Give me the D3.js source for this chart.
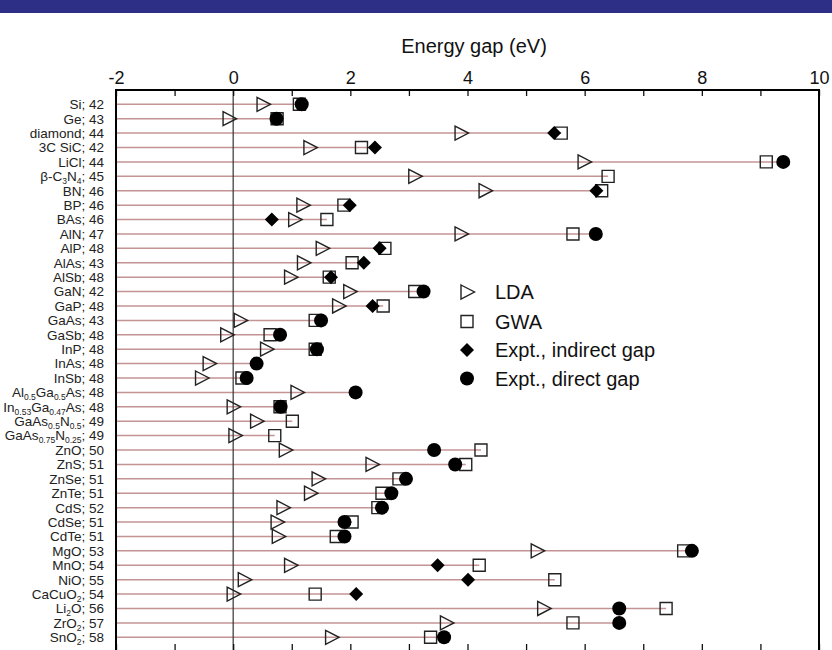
<!DOCTYPE html>
<html>
<head>
<meta charset="utf-8">
<script src="https://cdn.jsdelivr.net/npm/d3@7"></script>
<style>
    body { margin: 0; background: #fff; }
    svg { display: block; font-family: "Liberation Sans", Arial, sans-serif; }
</style>
</head>
<body>
<svg id="chart" width="832" height="650"></svg>
<script>
// Materials (top to bottom) with subscripts marked as _{...}
const materials = ["Si", "Ge", "diamond", "3C SiC", "LiCl", "β-C_{3}N_{4}", "BN", "BP", "BAs",
    "AlN", "AlP", "AlAs", "AlSb", "GaN", "GaP", "GaAs", "GaSb", "InP", "InAs", "InSb",
    "Al_{0.5}Ga_{0.5}As", "In_{0.53}Ga_{0.47}As", "GaAs_{0.5}N_{0.5}", "GaAs_{0.75}N_{0.25}",
    "ZnO", "ZnS", "ZnSe", "ZnTe", "CdS", "CdSe", "CdTe", "MgO", "MnO", "NiO",
    "CaCuO_{2}", "Li_{2}O", "ZrO_{2}", "SnO_{2}"];
const refs = [42, 43, 44, 42, 44, 45, 46, 46, 46, 47, 48, 43, 48, 42, 48, 43, 48, 48, 48, 48,
    48, 48, 49, 49, 50, 51, 51, 51, 52, 51, 51, 53, 54, 55, 54, 56, 57, 58];

// Energy gaps (eV)
const lda = [0.51, -0.07, 3.89, 1.31, 5.99, 3.10, 4.30, 1.19, 1.05, 3.89, 1.52, 1.20, 0.98, 1.99,
    1.80, 0.12, -0.11, 0.57, -0.41, -0.54, 1.09, 0.0, 0.40, 0.03, 0.89, 2.37, 1.45, 1.32, 0.85,
    0.75, 0.77, 5.19, 0.98, 0.19, 0.0, 5.30, 3.64, 1.68];
const gwa = [1.13, 0.75, 5.60, 2.19, 9.10, 6.40, 6.29, 1.89, 1.60, 5.80, 2.59, 2.03, 1.64, 3.10,
    2.56, 1.40, 0.63, 1.40, null, 0.15, null, 0.80, 1.01, 0.71, 4.23, 3.97, 2.83, 2.54, 2.47,
    2.03, 1.76, 7.69, 4.20, 5.49, 1.40, 7.39, 5.80, 3.37];
const exptIndirect = [null, null, 5.48, 2.42, null, null, 6.20, 1.99, 0.66, null, 2.50, 2.23, 1.67, null,
    2.38, null, null, null, null, null, null, null, null, null, null, null, null, null, null,
    null, null, null, 3.49, 4.01, 2.10, null, null, null];
const exptDirect = [1.17, 0.74, null, null, 9.39, null, null, null, null, 6.19, null, null, null, 3.25,
    null, 1.50, 0.80, 1.43, 0.40, 0.23, 2.09, 0.81, null, null, 3.43, 3.79, 2.95, 2.70, 2.54,
    1.90, 1.90, 7.83, null, null, null, 6.59, 6.59, 3.60];

const xLabelTicks = [-2, 0, 2, 4, 6, 8, 10];
const legendLabels = ["LDA", "GWA", "Expt., indirect gap", "Expt., direct gap"];

const svg = d3.select('#chart');
const plotLeft = 116, plotRight = 819, plotTop = 90, plotBottom = 653;

const x = d3.scaleLinear().domain([-2, 10]).range([plotLeft, plotRight]);
const y = d3.scalePoint().domain(d3.range(materials.length)).range([104.3, 637.3]);

// Marker shapes
const shapes = {
    tri: 'M-6,-7L7.5,0L-6,7Z',
    sq: 'M-6,-6H6V6H-6Z',
    dia: 'M0,-7L7,0L0,7L-7,0Z'
};

// Header bar
svg.append('rect').attr('x', 0).attr('y', 0).attr('width', 832).attr('height', 13)
    .attr('fill', '#2d2f86');

// Title
svg.append('text')
    .attr('x', 474).attr('y', 53)
    .attr('text-anchor', 'middle')
    .style('font-size', '20px').attr('fill', '#111')
    .text('Energy gap (eV)');

// Row lines
const rows = d3.range(materials.length);
svg.append('g').selectAll('line')
    .data(rows)
    .enter()
    .append('line')
    .attr('x1', plotLeft)
    .attr('x2', i => x(d3.max([lda[i], gwa[i], exptIndirect[i], exptDirect[i]])))
    .attr('y1', i => y(i)).attr('y2', i => y(i))
    .attr('stroke', '#c49494')
    .attr('stroke-width', 1.5);

// Zero line
svg.append('line')
    .attr('x1', x(0)).attr('x2', x(0))
    .attr('y1', plotTop).attr('y2', plotBottom)
    .attr('stroke', '#333').attr('stroke-width', 1.2);

// Axes: labels on top, unit ticks inward on top and bottom
const topAxis = svg.append('g')
    .attr('transform', `translate(0,${plotTop})`)
    .call(d3.axisTop(x).tickValues(xLabelTicks).tickSize(0).tickPadding(6)
        .tickFormat(d => String(d)));
topAxis.select('.domain').remove();
topAxis.selectAll('text')
    .style('font-size', '18px')
    .style('font-family', '"Liberation Sans", Arial, sans-serif')
    .attr('fill', '#111');

svg.append('g')
    .attr('transform', `translate(0,${plotTop})`)
    .call(d3.axisTop(x).ticks(12).tickSize(-6).tickFormat(''))
    .call(g => g.select('.domain').remove())
    .selectAll('line').attr('stroke', '#111').attr('stroke-width', 1.3);

svg.append('g')
    .attr('transform', `translate(0,${plotBottom})`)
    .call(d3.axisBottom(x).ticks(12).tickSize(-9).tickFormat(''))
    .call(g => g.select('.domain').remove())
    .selectAll('line').attr('stroke', '#111').attr('stroke-width', 1.3);

// Frame
svg.append('rect')
    .attr('x', plotLeft).attr('y', plotTop)
    .attr('width', plotRight - plotLeft).attr('height', plotBottom - plotTop)
    .attr('fill', 'none').attr('stroke', '#000').attr('stroke-width', 2);

// Row labels with subscripts
const labels = svg.append('g').selectAll('text')
    .data(rows)
    .enter()
    .append('text')
    .attr('x', 104)
    .attr('y', i => y(i))
    .attr('dy', '0.36em')
    .attr('text-anchor', 'end')
    .style('font-size', '13.5px')
    .attr('fill', '#222');

labels.each(function(i) {
    const el = d3.select(this);
    const parts = materials[i].split(/(_\{[^}]*\})/).filter(s => s.length);
    let shifted = false;
    parts.forEach(p => {
        if (p.startsWith('_{')) {
            el.append('tspan').attr('dy', 3).style('font-size', '8.5px').text(p.slice(2, -1));
            shifted = true;
        } else {
            el.append('tspan').attr('dy', shifted ? -3 : null).text(p);
            shifted = false;
        }
    });
    el.append('tspan').attr('dy', shifted ? -3 : null).text('; ' + refs[i]);
});

// Markers
function drawMarkers(values, shape, filled) {
    const pts = rows.filter(i => values[i] !== null);
    const g = svg.append('g');
    if (shape === 'circle') {
        g.selectAll('circle').data(pts).enter().append('circle')
            .attr('cx', i => x(values[i])).attr('cy', i => y(i)).attr('r', 7)
            .attr('fill', '#000');
    } else {
        g.selectAll('path').data(pts).enter().append('path')
            .attr('d', shapes[shape])
            .attr('transform', i => `translate(${x(values[i])},${y(i)})`)
            .attr('fill', filled ? '#000' : 'none')
            .attr('stroke', filled ? 'none' : '#222')
            .attr('stroke-width', 1.4);
    }
}
drawMarkers(lda, 'tri', false);
drawMarkers(gwa, 'sq', false);
drawMarkers(exptIndirect, 'dia', true);
drawMarkers(exptDirect, 'circle', true);

// Legend
const legendShapes = ['tri', 'sq', 'dia', 'circle'];
const legendY = [292, 321.5, 350, 378.5];
const legend = svg.append('g').selectAll('g')
    .data(legendLabels)
    .enter()
    .append('g')
    .attr('transform', (d, i) => `translate(467,${legendY[i]})`);

legend.each(function(d, i) {
    const g = d3.select(this);
    const s = legendShapes[i];
    if (s === 'circle') {
        g.append('circle').attr('r', 7).attr('fill', '#000');
    } else {
        g.append('path').attr('d', shapes[s])
            .attr('fill', s === 'dia' ? '#000' : 'none')
            .attr('stroke', s === 'dia' ? 'none' : '#222')
            .attr('stroke-width', 1.4);
    }
});
legend.append('text')
    .attr('x', 28)
    .attr('dy', '0.36em')
    .style('font-size', '20px')
    .attr('fill', '#111')
    .text(d => d);
</script>
</body>
</html>
